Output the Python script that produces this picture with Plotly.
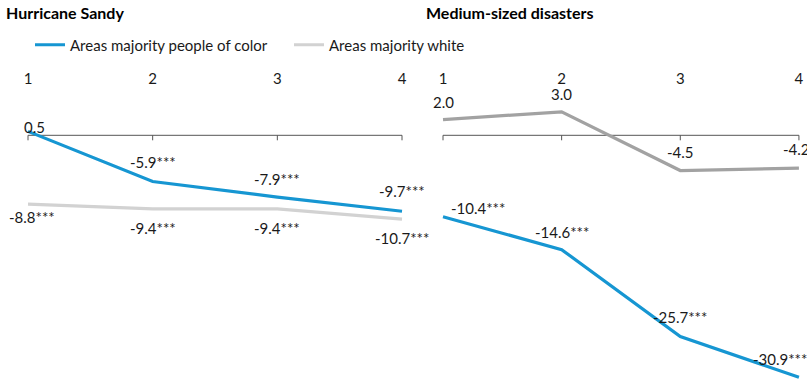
import plotly.graph_objects as go

# ---------------- data ----------------
categories = [1, 2, 3, 4]
tick_labels = ["1", "2", "3", "4"]

sandy_poc = [0.5, -5.9, -7.9, -9.7]
sandy_poc_sig = ["", "***", "***", "***"]
sandy_white = [-8.8, -9.4, -9.4, -10.7]
sandy_white_sig = ["***", "***", "***", "***"]

medium_white = [2.0, 3.0, -4.5, -4.2]
medium_white_sig = ["", "", "", ""]
medium_poc = [-10.4, -14.6, -25.7, -30.9]
medium_poc_sig = ["***", "***", "***", "***"]

panel_titles = ["Hurricane Sandy", "Medium-sized disasters"]
series_names = ["Areas majority people of color", "Areas majority white"]

# ---------------- style ----------------
W, H = 807, 385
OFF = 0            # body margin removed via post_script
T, B = 88, 0
PH = H - T - B
BLUE = "#1696d2"
GRAY_LIGHT = "#d2d2d2"
GRAY_DARK = "#a2a2a2"
AXIS = "#555555"
TXT = "#1a1a1a"
FONT = "Lato"
LBL = 15


def px(x):
    """screen x -> paper x"""
    return (x - OFF) / W


def py(y):
    """screen y -> paper y"""
    return (H - B - (y - OFF)) / PH


fig = go.Figure()

fig.add_trace(go.Scatter(x=categories, y=sandy_poc, mode="lines", name=series_names[0],
                         line=dict(color=BLUE, width=3.2), xaxis="x", yaxis="y",
                         legendrank=1, hoverinfo="skip"))
fig.add_trace(go.Scatter(x=categories, y=sandy_white, mode="lines", name=series_names[1],
                         line=dict(color=GRAY_LIGHT, width=3.2), xaxis="x", yaxis="y",
                         legendrank=2, hoverinfo="skip"))
fig.add_trace(go.Scatter(x=categories, y=medium_white, mode="lines", name=series_names[1],
                         line=dict(color=GRAY_DARK, width=3.2), xaxis="x2", yaxis="y2",
                         showlegend=False, hoverinfo="skip"))
fig.add_trace(go.Scatter(x=categories, y=medium_poc, mode="lines", name=series_names[0],
                         line=dict(color=BLUE, width=3.2), xaxis="x2", yaxis="y2",
                         showlegend=False, hoverinfo="skip"))

# ---------------- axes ----------------
# plot area spans screen y 88..385 ; zero at 135.3 ; 7.83 px per unit
yrange = [-(385 - 135.3) / 7.83, (135.3 - 88) / 7.83]
xaxis_common = dict(side="top", showgrid=False, zeroline=False, showline=False,
                    ticks="", tickvals=categories, ticktext=tick_labels,
                    tickfont=dict(family=FONT, size=LBL, color=TXT), fixedrange=True)
fig.update_layout(
    xaxis=dict(domain=[px(9.3), px(420.7)], range=[0.85, 4.15], anchor="y", **xaxis_common),
    xaxis2=dict(domain=[px(425.2), px(807)], range=[0.85, 4.068], anchor="y2", **xaxis_common),
    yaxis=dict(range=yrange, visible=False, domain=[0, 1], anchor="x", fixedrange=True),
    yaxis2=dict(range=yrange, visible=False, domain=[0, 1], anchor="x2", fixedrange=True),
)

# ---------------- zero axis lines with ticks ----------------
shapes = []
for xr, yr in (("x", "y"), ("x2", "y2")):
    shapes.append(dict(type="line", xref=xr, yref=yr, x0=categories[0], x1=categories[-1],
                       y0=0, y1=0, line=dict(color=AXIS, width=1), layer="below"))
    for c in categories:
        shapes.append(dict(type="line", xref=xr, yref=yr, x0=c, x1=c,
                           ysizemode="pixel", yanchor=0, y0=0, y1=-5,
                           line=dict(color=AXIS, width=1), layer="below"))

# ---------------- data labels ----------------
annotations = []


def add_labels(vals, sigs, xr, yr, offsets, anchors=None):
    anchors = anchors or ["center"] * len(vals)
    for c, v, s, (dx, dy), a in zip(categories, vals, sigs, offsets, anchors):
        annotations.append(dict(x=c, y=v, xref=xr, yref=yr, text=f"{v:.1f}{s}",
                                showarrow=False, xshift=dx, yshift=dy, xanchor=a,
                                font=dict(family=FONT, size=LBL, color=TXT)))


add_labels(sandy_poc, sandy_poc_sig, "x", "y", [(6, 4), (0, 19.5), (0, 18), (0, 20)])
add_labels(sandy_white, sandy_white_sig, "x", "y", [(4, -13), (0, -19), (0, -19), (0, -19)])
add_labels(medium_white, medium_white_sig, "x2", "y2", [(0, 17.6), (0, 18), (0, 18.5), (-2, 19)])
add_labels(medium_poc, medium_poc_sig, "x2", "y2", [(6, 9), (0, 17.6), (0, 19.5), (-48, 18)],
           ["left", "center", "center", "left"])

# panel titles
for title, xt in zip(panel_titles, (4, 424)):
    annotations.append(dict(text=f"<b>{title}</b>", xref="paper", yref="paper",
                            x=px(xt), y=py(12), xanchor="left", yanchor="middle",
                            showarrow=False, font=dict(family=FONT, size=16, color="#000")))

fig.update_layout(
    width=W, height=H,
    margin=dict(l=0, r=0, t=T, b=B, pad=0),
    paper_bgcolor="white", plot_bgcolor="white",
    shapes=shapes, annotations=annotations,
    showlegend=True, hovermode=False, dragmode=False,
    legend=dict(orientation="h", x=px(30), y=py(45), xanchor="left", yanchor="middle",
                font=dict(family=FONT, size=LBL, color=TXT), bgcolor="rgba(0,0,0,0)",
                traceorder="normal", entrywidth=214, entrywidthmode="pixels"),
    font=dict(family=FONT),
)

fig.write_html("out.html", config={"displayModeBar": False},
               post_script="document.body.style.margin='0px';document.body.style.overflow='hidden';")
